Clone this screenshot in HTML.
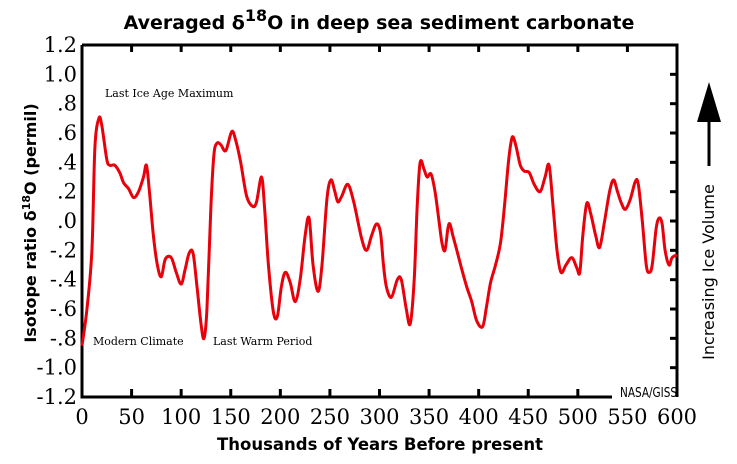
<!DOCTYPE html>
<html><head><meta charset="utf-8"><style>
html,body{margin:0;padding:0;background:#fff;width:737px;height:464px;overflow:hidden}
svg text{font-family:"DejaVu Sans","Liberation Sans",sans-serif}
.serif{font-family:"DejaVu Serif","Liberation Serif",serif}
</style></head><body>
<svg id="chart" width="737" height="464" xmlns="http://www.w3.org/2000/svg">
<text x="379" y="29" text-anchor="middle" font-weight="bold" font-size="19">Averaged δ<tspan dy="-8" font-size="16">18</tspan><tspan dy="8">O in deep sea sediment carbonate</tspan></text>
<g id="axes"></g>
<g id="series"></g>
<text transform="translate(36,223) rotate(-90)" text-anchor="middle" font-weight="bold" font-size="16">Isotope ratio δ<tspan dy="-6" font-size="11">18</tspan><tspan dy="6">O (permil)</tspan></text>
<text x="380" y="450" text-anchor="middle" font-weight="bold" font-size="16.5">Thousands of Years Before present</text>
<text class="serif" x="105" y="97" font-size="11">Last Ice Age Maximum</text>
<text class="serif" x="93" y="345" font-size="11">Modern Climate</text>
<text class="serif" x="213" y="345" font-size="11">Last Warm Period</text>
<text x="620" y="397" font-size="13" textLength="57" lengthAdjust="spacingAndGlyphs">NASA/GISS</text>
<polygon points="709,82 697,122 721,122" fill="#000"/>
<line x1="709" y1="120" x2="709" y2="166" stroke="#000" stroke-width="3"/>
<text transform="translate(714,272) rotate(-90)" text-anchor="middle" font-size="16">Increasing Ice Volume</text>
</svg>
<script>
const years=[0,5,10,13,17,20,25,28,33,38,42,47,52,57,62,65,68,72,76,80,84,90,95,100,104,108,112,116,120,123,126,130,133,136,140,145,151,155,160,166,172,176,181,184,188,193,197,201,205,210,215,220,225,229,233,238,242,247,251,255,258,262,268,274,282,287,292,297,301,304,307,312,318,322,327,331,335,338,341,345,348,352,356,360,363,366,369,371,374,378,383,388,393,398,404,408,412,417,422,426,430,433,435,438,442,446,451,456,462,467,471,475,479,483,488,494,499,502,505,509,513,518,522,527,532,536,540,544,548,553,558,561,565,569,572,575,579,582,585,588,592,595,600];
const d18o=[-0.85,-0.6,-0.2,0.5,0.7,0.65,0.42,0.38,0.38,0.33,0.26,0.22,0.16,0.2,0.3,0.38,0.2,-0.1,-0.3,-0.38,-0.26,-0.25,-0.35,-0.43,-0.33,-0.22,-0.22,-0.45,-0.7,-0.8,-0.6,0.1,0.45,0.53,0.52,0.48,0.61,0.55,0.4,0.17,0.1,0.13,0.3,0.1,-0.3,-0.62,-0.65,-0.45,-0.35,-0.42,-0.55,-0.4,-0.1,0.02,-0.3,-0.48,-0.3,0.15,0.28,0.2,0.13,0.17,0.25,0.13,-0.12,-0.2,-0.1,-0.02,-0.08,-0.3,-0.45,-0.52,-0.4,-0.4,-0.6,-0.7,-0.4,0.1,0.4,0.35,0.3,0.32,0.2,0.0,-0.15,-0.2,-0.05,-0.02,-0.1,-0.2,-0.33,-0.45,-0.55,-0.68,-0.72,-0.58,-0.42,-0.3,-0.15,0.1,0.4,0.55,0.57,0.5,0.38,0.34,0.33,0.25,0.2,0.3,0.38,0.1,-0.2,-0.35,-0.3,-0.25,-0.32,-0.35,-0.1,0.12,0.05,-0.1,-0.18,0.0,0.2,0.28,0.2,0.12,0.08,0.15,0.27,0.25,0.0,-0.3,-0.35,-0.3,-0.05,0.02,-0.02,-0.2,-0.3,-0.25,-0.23];
const xTicks=[0,50,100,150,200,250,300,350,400,450,500,550,600];
const yTicks=[1.2,1.0,0.8,0.6,0.4,0.2,0.0,-0.2,-0.4,-0.6,-0.8,-1.0,-1.2];
const yTickLabels=["1.2","1.0",".8",".6",".4",".2",".0","-.2","-.4","-.6","-.8","-1.0","-1.2"];
const X0=82,X1=677,Y0=45,Y1=397;
const sx=v=>X0+(v-0)/(600-0)*(X1-X0);
const sy=v=>Y1-(v+1.2)/2.4*(Y1-Y0);
const NS="http://www.w3.org/2000/svg";
const axes=document.getElementById('axes');
function mk(tag,attrs,parent){const e=document.createElementNS(NS,tag);for(const k in attrs)e.setAttribute(k,attrs[k]);parent.appendChild(e);return e;}
let e;
e=mk('path',{d:`M${X0},${Y0} H${X1} V${Y1} M${X0},${Y0} V${Y1} H612`,fill:'none',stroke:'#000','stroke-width':3},axes);


xTicks.forEach((t,i)=>{
  const x=sx(t);
  if(i>0&&i<xTicks.length-1){
    e=mk('line',{x1:x,y1:Y0,x2:x,y2:Y0+7,stroke:'#000','stroke-width':3},axes);
    
    
    if(x<612){
      e=mk('line',{x1:x,y1:Y1,x2:x,y2:Y1-8,stroke:'#000','stroke-width':3},axes);
      
      
    }
  }
  e=mk('text',{x:x,y:424,'text-anchor':'middle','font-size':21,'class':'serif'},axes);
  e.textContent=String(t);
  
  
});
yTicks.forEach((t,i)=>{
  const y=sy(t);
  if(i>0&&i<yTicks.length-1){
    e=mk('line',{x1:X1,y1:y,x2:X1-7,y2:y,stroke:'#000','stroke-width':3},axes);
    
    
  }
  e=mk('text',{x:77,y:y+7,'text-anchor':'end','font-size':21,'class':'serif'},axes);
  e.textContent=yTickLabels[i];
  
  
});
const pts=years.map((v,i)=>[sx(v),sy(d18o[i])]);
let d=`M${pts[0][0]},${pts[0][1]}`;
for(let i=0;i<pts.length-1;i++){
  const p0=pts[Math.max(0,i-1)],p1=pts[i],p2=pts[i+1],p3=pts[Math.min(pts.length-1,i+2)];
  const c1=[p1[0]+(p2[0]-p0[0])/6,p1[1]+(p2[1]-p0[1])/6];
  const c2=[p2[0]-(p3[0]-p1[0])/6,p2[1]-(p3[1]-p1[1])/6];
  d+=` C${c1[0]},${c1[1]} ${c2[0]},${c2[1]} ${p2[0]},${p2[1]}`;
}
e=mk('path',{d:d,fill:'none',stroke:'#e8000b','stroke-width':3,'stroke-linejoin':'round'},document.getElementById('series'));


</script>
</body></html>
